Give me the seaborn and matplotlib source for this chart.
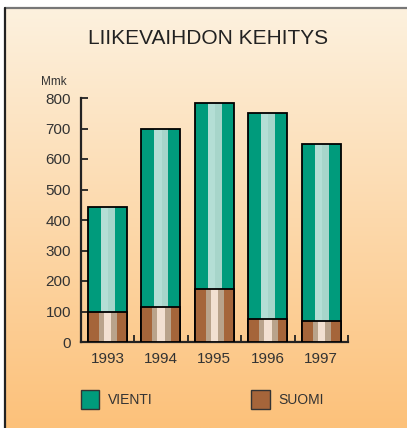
import matplotlib
matplotlib.use("Agg")
import matplotlib.pyplot as plt
from matplotlib.patches import Rectangle
import numpy as np
import pandas as pd
import seaborn as sns

# Data (Mmk)
years = ["1993", "1994", "1995", "1996", "1997"]
total = [441, 698, 785, 750, 649]
suomi = [97, 114, 173, 76, 70]
vienti = [t - s for t, s in zip(total, suomi)]

df = pd.DataFrame({"year": years, "total": total, "suomi": suomi, "vienti": vienti})

green = "#009B7C"
green_l1 = "#B4DED5"
green_l2 = "#A7D5CA"
brown = "#A5653A"
brown_t = "#B9A38B"
brown_c = "#F2E0D1"

sns.set_theme(style="white")
plt.rcParams["font.family"] = ["Liberation Sans", "DejaVu Sans"]

W, H = 407, 428
fig = plt.figure(figsize=(W / 100, H / 100), dpi=100)
fig.patch.set_facecolor("white")

# gradient background panel
bg = fig.add_axes([6 / W, 0, 1 - 6 / W, (H - 9) / H], zorder=-10)
top_c = np.array([253, 241, 222]) / 255
bot_c = np.array([252, 193, 122]) / 255
t = np.linspace(0, 1, 256)[:, None]
grad = top_c[None, :] * (1 - t) + bot_c[None, :] * t
bg.imshow(grad[:, None, :], aspect="auto", extent=[0, 1, 0, 1])
bg.set_axis_off()
fig.add_artist(plt.Line2D([5 / W, 1], [(H - 8) / H] * 2, color="#777777", lw=1.6))
fig.add_artist(plt.Line2D([5 / W] * 2, [0, (H - 8) / H], color="#222222", lw=1.6))

ax = fig.add_axes([80.7 / W, (H - 342) / H, (348 - 80.7) / W, (342 - 98) / H])
ax.patch.set_alpha(0)

bw = 0.73
x = np.arange(len(years))

# VIENTI (full stack height)
sns.barplot(data=df, x="year", y="total", color=green, saturation=1, width=bw,
            linewidth=0, ax=ax, zorder=2)
ax.bar(x - bw / 2 + 0.328 * bw, df["total"], width=0.19 * bw, align="edge",
       color=green_l1, linewidth=0, zorder=2.1)
ax.bar(x - bw / 2 + 0.517 * bw, df["total"], width=0.173 * bw, align="edge",
       color=green_l2, linewidth=0, zorder=2.1)
ax.bar(x, df["total"], width=bw, facecolor="none", edgecolor="black",
       linewidth=1.3, zorder=2.2)

# SUOMI
sns.barplot(data=df, x="year", y="suomi", color=brown, saturation=1, width=bw,
            linewidth=0, ax=ax, zorder=3)
ax.bar(x - bw / 2 + 0.276 * bw, df["suomi"], width=0.129 * bw, align="edge",
       color=brown_t, linewidth=0, zorder=3.1)
ax.bar(x - bw / 2 + 0.405 * bw, df["suomi"], width=0.198 * bw, align="edge",
       color=brown_c, linewidth=0, zorder=3.1)
ax.bar(x - bw / 2 + 0.603 * bw, df["suomi"], width=0.147 * bw, align="edge",
       color=brown_t, linewidth=0, zorder=3.1)
ax.bar(x, df["suomi"], width=bw, facecolor="none", edgecolor="black",
       linewidth=1.3, zorder=3.2)

ax.set_xlim(-0.5, len(years) - 0.5)
ax.set_ylim(0, 800)
ax.set_yticks(range(0, 801, 100))
ax.set_xticks(x)
ax.set_xticklabels(years)
ax.set_xticks(np.arange(-0.5, len(years), 1.0), minor=True)
ax.set_xlabel("")
ax.set_ylabel("")
for s in ["top", "right"]:
    ax.spines[s].set_visible(False)
for s in ["left", "bottom"]:
    ax.spines[s].set_color("#222222")
    ax.spines[s].set_linewidth(1.6)
ax.tick_params(axis="y", direction="in", length=5, width=1.3, color="#222222",
               labelsize=11, labelcolor="#333333", pad=7, left=True)
ax.tick_params(axis="x", which="major", length=0, labelsize=11,
               labelcolor="#333333", pad=7)
ax.tick_params(axis="x", which="minor", direction="in", length=5, width=1.3,
               color="#222222", bottom=True)

fig.text(208.5 / W, 1 - 39 / H, "LIIKEVAIHDON KEHITYS", ha="center", va="center",
         fontsize=15, color="#222222")
fig.text(53.5 / W, 1 - 82 / H, "Mmk", ha="center", va="center", fontsize=8.5,
         color="#333333")

# legend
for x0, col, lab in [(80.7, green, "VIENTI"), (251, brown, "SUOMI")]:
    fig.add_artist(Rectangle((x0 / W, 1 - 408.7 / H), 18.6 / W, 18.7 / H,
                             transform=fig.transFigure, facecolor=col,
                             edgecolor="#333333", linewidth=1.0))
    fig.text((x0 + 27) / W, 1 - 400 / H, lab, ha="left", va="center",
             fontsize=10, color="#333333")

fig.savefig("out.png", dpi=100)
